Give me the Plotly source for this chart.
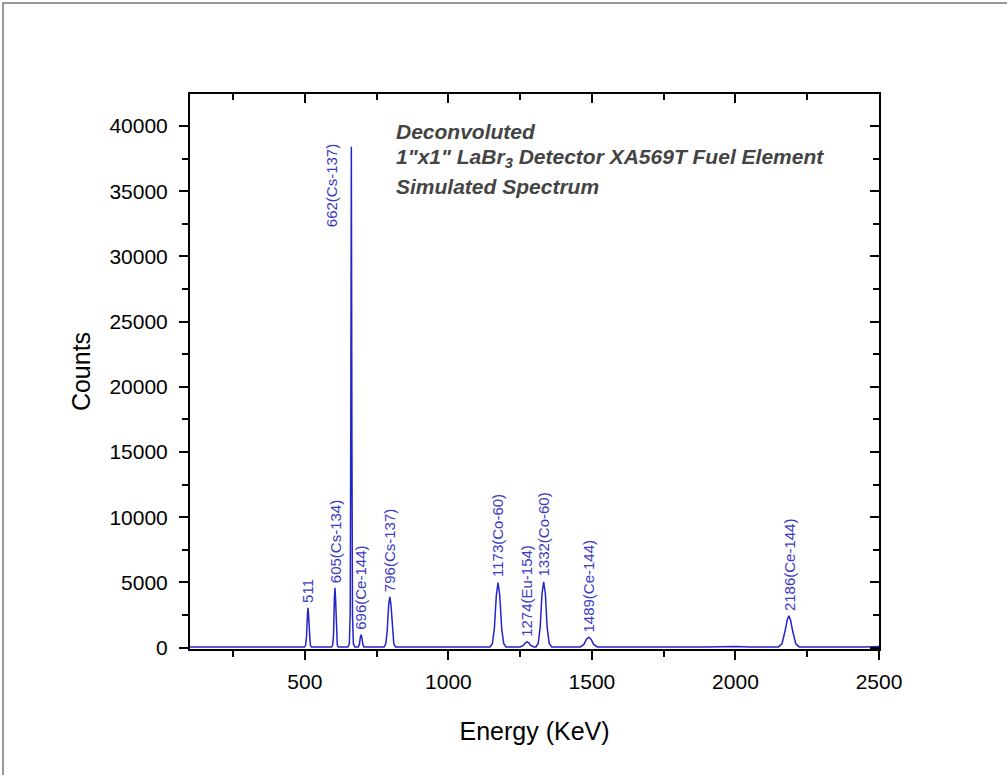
import plotly.graph_objects as go

# Spectrum points (energy in keV, counts)
energy = [100, 300, 480,
          499, 503, 506, 509, 511, 513, 516, 519, 523,
          593, 597, 600, 603, 605, 607, 610, 613, 617,
          650, 655, 658, 660, 662, 664, 666, 669, 674,
          686, 690, 693, 696, 699, 702, 706,
          776, 782, 787, 792, 796, 800, 805, 810, 816,
          1000,
          1145, 1153, 1160, 1167, 1173, 1179, 1186, 1193, 1201,
          1250, 1262, 1268, 1274, 1280, 1286, 1298,
          1305, 1313, 1320, 1326, 1332, 1338, 1344, 1351, 1360,
          1460, 1472, 1481, 1489, 1497, 1506, 1518,
          1600, 1900, 2000, 2050,
          2150, 2162, 2172, 2180, 2186, 2192, 2200, 2210, 2222,
          2300, 2450, 2500]
counts = [60, 50, 50,
          50, 200, 900, 2500, 3050, 2500, 900, 200, 50,
          50, 200, 1000, 3800, 4600, 3800, 1000, 200, 50,
          50, 300, 2500, 16500, 38400, 16000, 2500, 300, 60,
          60, 250, 750, 1000, 750, 250, 60,
          60, 300, 1300, 3300, 3900, 3300, 1300, 300, 60,
          50,
          60, 300, 1400, 4000, 5000, 4000, 1400, 300, 60,
          60, 200, 380, 450, 380, 200, 60,
          60, 350, 1600, 4100, 5050, 4100, 1600, 350, 60,
          60, 250, 650, 800, 650, 250, 60,
          50, 60, 90, 60,
          60, 300, 1200, 2100, 2450, 2100, 1200, 300, 60,
          50, 60, 90]

# Peak labels
peak_energy = [511, 605, 696, 796, 1173, 1274, 1332, 1489, 2186]
peak_counts = [3050, 4600, 1000, 3900, 5000, 450, 5050, 800, 2450]
peak_labels = ["511", "605(Cs-134)", "696(Ce-144)", "796(Cs-137)", "1173(Co-60)",
               "1274(Eu-154)", "1332(Co-60)", "1489(Ce-144)", "2186(Ce-144)"]
main_energy = 662
main_counts = 38400
main_label = "662(Cs-137)"

title_lines = ["Deconvoluted",
               "1\"x1\" LaBr<sub>3</sub> Detector XA569T Fuel Element",
               "Simulated Spectrum"]

x_range = [100, 2500]
y_range = [-100, 42450]

FONT = "Liberation Sans, Arial, sans-serif"
LINE_COL = "#2424cc"
LABEL_COL = "#3a3ac4"

fig = go.Figure()
fig.add_trace(go.Scatter(x=energy, y=counts, mode="lines",
                         line=dict(color=LINE_COL, width=1.5),
                         showlegend=False, hoverinfo="x+y"))
# invisible helper so the mirrored top/right axes get drawn
fig.add_trace(go.Scatter(x=x_range, y=y_range, xaxis="x2", yaxis="y2", mode="markers",
                         marker=dict(opacity=0), showlegend=False, hoverinfo="skip"))

annotations = []
for e, c, t in zip(peak_energy, peak_counts, peak_labels):
    annotations.append(dict(x=e, y=c, xref="x", yref="y", text=t, showarrow=False,
                            textangle=-90, xanchor="center", yanchor="bottom", yshift=3,
                            font=dict(family=FONT, size=15, color=LABEL_COL)))
annotations.append(dict(x=main_energy, y=main_counts, xref="x", yref="y", text=main_label,
                        showarrow=False, textangle=-90, xanchor="right", yanchor="top",
                        xshift=-10, yshift=5,
                        font=dict(family=FONT, size=15, color=LABEL_COL)))

title_y = [0.932, 0.884, 0.834]
for t, yy in zip(title_lines, title_y):
    annotations.append(dict(x=0.296, y=yy, xref="paper", yref="paper", text="<b><i>" + t + "</i></b>",
                            showarrow=False, xanchor="left", yanchor="middle",
                            font=dict(family=FONT, size=21, color="#444444")))

axis_common = dict(showline=True, linecolor="black", linewidth=2,
                   showgrid=False, zeroline=False, tickcolor="black", tickwidth=1.5)

fig.update_layout(
    width=1007, height=775,
    margin=dict(l=190, r=128, t=94, b=126),
    paper_bgcolor="white", plot_bgcolor="white",
    font=dict(family=FONT, color="black"),
    xaxis=dict(range=x_range, tickmode="linear", tick0=0, dtick=500, ticks="outside", ticklen=9,
               minor=dict(dtick=250, tick0=0, ticks="outside", ticklen=6, tickcolor="black", tickwidth=1.5),
               tickfont=dict(size=21), ticklabelstandoff=4,
               title=dict(text="Energy (KeV)", font=dict(size=25), standoff=30),
               **axis_common),
    yaxis=dict(range=y_range, tickmode="linear", tick0=0, dtick=5000, ticks="outside", ticklen=9,
               tickformat="d",
               minor=dict(dtick=2500, tick0=0, ticks="outside", ticklen=6, tickcolor="black", tickwidth=1.5),
               tickfont=dict(size=21), ticklabelstandoff=7,
               title=dict(text="Counts", font=dict(size=25), standoff=12),
               **axis_common),
    xaxis2=dict(range=x_range, overlaying="x", side="top", anchor="y2", tickmode="linear", tick0=0,
                dtick=500, ticks="inside", ticklen=9, showticklabels=False,
                minor=dict(dtick=250, tick0=0, ticks="inside", ticklen=6, tickcolor="black", tickwidth=1.5),
                **axis_common),
    yaxis2=dict(range=y_range, overlaying="y", side="right", anchor="x2", tickmode="linear", tick0=0,
                dtick=5000, ticks="inside", ticklen=9, showticklabels=False,
                minor=dict(dtick=2500, tick0=0, ticks="inside", ticklen=6, tickcolor="black", tickwidth=1.5),
                **axis_common),
    annotations=annotations,
    shapes=[dict(type="rect", xref="paper", yref="paper",
                 x0=-0.2714, x1=1.2, y0=-0.25, y1=1.164,
                 line=dict(color="#777777", width=1.5), fillcolor="rgba(0,0,0,0)", layer="below")],
)

fig.write_html("out.html")
